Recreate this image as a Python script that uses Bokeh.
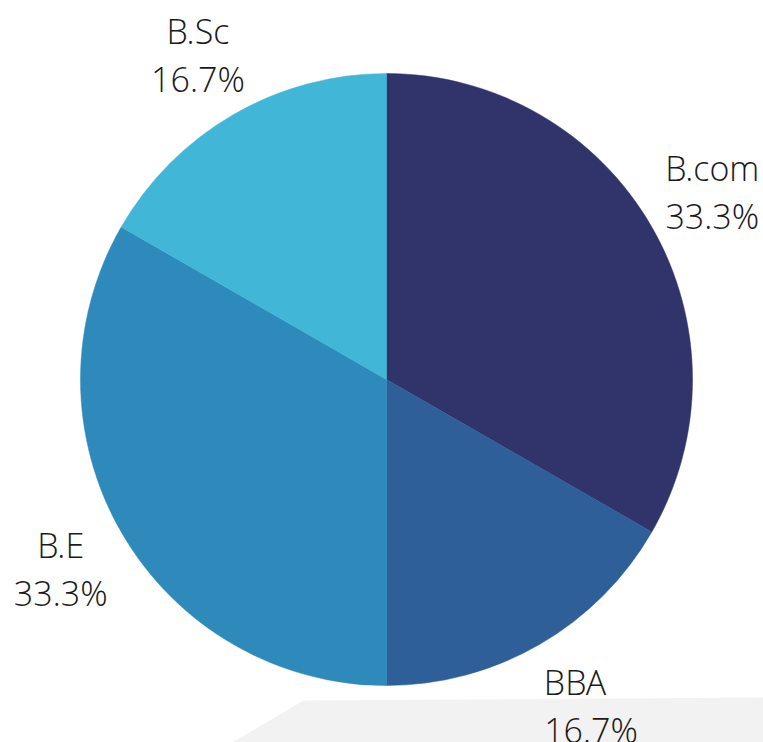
import math
from bokeh.plotting import figure
from bokeh.models import Range1d, ColumnDataSource
from bokeh.core.properties import value
from bokeh.embed import file_html
from bokeh.resources import INLINE

categories = ["B.com", "BBA", "B.E", "B.Sc"]
shares = [33.3, 16.7, 33.3, 16.7]
colors = ["#31336b", "#2e5f98", "#2d8aba", "#41b6d6"]

# decorative light-grey backdrop shape at the bottom (page pixels)
backdrop_x = [232, 303, 763, 763]
backdrop_y = [742, 700, 697, 742]

W, H = 763, 742
cx, cy, R = 386, H - 379, 306

p = figure(width=W, height=H, output_backend="svg", toolbar_location=None,
           x_range=Range1d(0, W), y_range=Range1d(0, H), min_border=0)
p.axis.visible = False
p.grid.visible = False
p.outline_line_color = None
p.background_fill_color = "white"
p.border_fill_color = "white"

p.patch(backdrop_x, [H - y for y in backdrop_y],
        fill_color="#f2f2f2", line_color=None)

total = sum(shares)
starts, ends, mids = [], [], []
a = math.pi / 2
for s in shares:
    span = 2 * math.pi * s / total
    ends.append(a)
    starts.append(a - span)
    mids.append(a - span / 2)
    a -= span

src = ColumnDataSource(dict(cat=categories, start=starts, end=ends, color=colors))
p.wedge(x=cx, y=cy, radius=R, start_angle="start", end_angle="end",
        fill_color="color", line_color="color", line_width=0.5, source=src)

lr = R * 1.23
lx = [cx + lr * math.cos(m) for m in mids]
ly = [cy + lr * math.sin(m) for m in mids]
pct = [f"{s:.1f}%" for s in shares]
# percentage line is left-aligned with the name on the lower-right label
pct_dx = [0, 16, 0, 0]
lsrc = ColumnDataSource(dict(x=lx, y=ly, name=categories, pct=pct,
                             px=[x + d for x, d in zip(lx, pct_dx)]))
common = dict(text_font=value("'Open Sans Light', 'Open Sans'"), text_font_size="34px",
              text_color="#1a1a1a", text_align="center", text_baseline="middle",
              source=lsrc, y="y")
p.text(x="x", text="name", y_offset=-23, **common)
p.text(x="px", text="pct", y_offset=25, **common)

open("out.html", "w").write(file_html(p, INLINE))
